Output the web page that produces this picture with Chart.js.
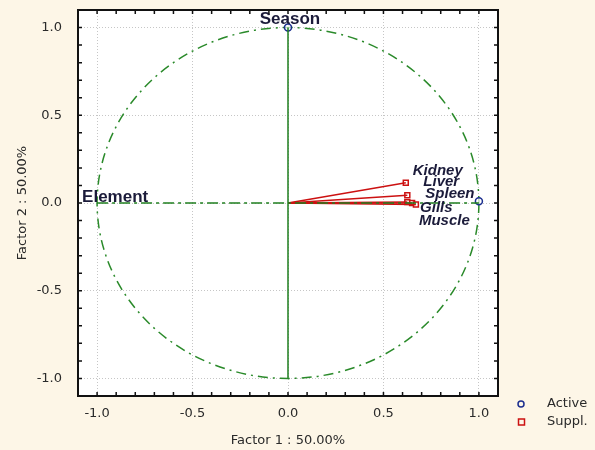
<!DOCTYPE html>
<html lang="en">
<head>
  <meta charset="UTF-8">
  <title>Factor plot</title>
  <script src="https://cdn.jsdelivr.net/npm/chart.js"></script>
  <style>
    html, body { margin: 0; padding: 0; background: #fdf6e7; }
  </style>
</head>
<body>
  <canvas id="factorChart" width="595" height="450"></canvas>
  <script>
    // active variables
    const activeNames = ['Season', 'Element'];
    const activeX = [0.0, 1.0];
    const activeY = [1.0, 0.01];

    // supplementary variables
    const supplNames = ['Kidney', 'Liver', 'Spleen', 'Gills', 'Muscle'];
    const supplX = [0.617, 0.625, 0.625, 0.65, 0.67];
    const supplY = [0.115, 0.044, 0.005, 0.0, -0.008];

    const axisTicks = [-1.0, -0.5, 0.0, 0.5, 1.0];
    const legendLabels = ['Active', 'Suppl.'];

    const GREEN = '#1f7f1f';
    const RED = '#cc1111';
    const BLUE = '#1c2f8f';
    const TEXT = '#2a2a2a';
    const LABEL = '#1b1b3a';

    // label placement (pixels from the point), kept apart from the data
    const supplLabelOffset = {
      Kidney: [7, -8], Liver: [16, -9], Spleen: [18, -4], Gills: [8, 9], Muscle: [3, 21]
    };

    const datasets = [];
    // axis lines through the origin
    datasets.push({
      data: [{x: 0, y: 1}, {x: 0, y: -1}],
      showLine: true, pointRadius: 0, borderColor: GREEN, borderWidth: 1.5
    });
    datasets.push({
      data: [{x: -1, y: 0}, {x: 1, y: 0}],
      showLine: true, pointRadius: 0, borderColor: GREEN, borderWidth: 1.5,
      borderDash: [11, 4, 3, 4]
    });
    // supplementary vectors
    supplNames.forEach((n, i) => {
      datasets.push({
        data: [{x: 0, y: 0}, {x: supplX[i], y: supplY[i]}],
        showLine: true, pointRadius: 0, borderColor: RED, borderWidth: 1.5
      });
    });
    datasets.push({
      label: 'Suppl.',
      data: supplX.map((x, i) => ({x: x, y: supplY[i]})),
      pointStyle: 'rect', pointRadius: 3.5, borderWidth: 1.5,
      borderColor: RED, backgroundColor: 'rgba(255,255,255,0.7)'
    });
    datasets.push({
      label: 'Active',
      data: activeX.map((x, i) => ({x: x, y: activeY[i]})),
      pointStyle: 'circle', pointRadius: 3.5, borderWidth: 1.5,
      borderColor: BLUE, backgroundColor: 'rgba(255,255,255,0.7)'
    });

    const tickFont = {family: 'DejaVu Sans', size: 13};

    const framePlugin = {
      id: 'frame',
      beforeDraw(chart) {
        const {ctx, chartArea: a} = chart;
        ctx.save();
        ctx.fillStyle = '#fdf6e7';
        ctx.fillRect(0, 0, chart.width, chart.height);
        ctx.fillStyle = '#ffffff';
        ctx.fillRect(a.left, a.top, a.right - a.left, a.bottom - a.top);
        ctx.restore();
      },
      beforeDatasetsDraw(chart) {
        // unit circle, drawn through the scales
        const {ctx, scales: {x, y}} = chart;
        const cx = x.getPixelForValue(0), cy = y.getPixelForValue(0);
        const rx = x.getPixelForValue(1) - cx, ry = cy - y.getPixelForValue(1);
        ctx.save();
        ctx.strokeStyle = '#2a8a2a';
        ctx.lineWidth = 1.5;
        ctx.setLineDash([10, 5, 2, 5]);
        ctx.beginPath();
        ctx.ellipse(cx, cy, rx, ry, 0, 0, Math.PI * 2);
        ctx.stroke();
        ctx.restore();
      },
      afterDatasetsDraw(chart) {
        const {ctx, chartArea: a, scales: {x, y}} = chart;
        ctx.save();

        // variable labels
        ctx.fillStyle = LABEL;
        ctx.textBaseline = 'alphabetic';
        ctx.font = 'italic bold 15px "Liberation Sans", Arial, sans-serif';
        ctx.textAlign = 'left';
        supplNames.forEach((n, i) => {
          const o = supplLabelOffset[n];
          ctx.fillText(n, x.getPixelForValue(supplX[i]) + o[0], y.getPixelForValue(supplY[i]) + o[1]);
        });
        ctx.font = 'bold 17px "Liberation Sans", Arial, sans-serif';
        ctx.textAlign = 'center';
        ctx.fillText(activeNames[0], x.getPixelForValue(activeX[0]) + 2, y.getPixelForValue(activeY[0]) - 4);
        ctx.textAlign = 'left';
        ctx.fillText(activeNames[1], x.getPixelForValue(-1) - 15, y.getPixelForValue(0) - 1);

        // frame with inward ticks every 0.1
        ctx.strokeStyle = '#111';
        ctx.lineWidth = 2;
        ctx.strokeRect(a.left, a.top, a.right - a.left, a.bottom - a.top);
        ctx.lineWidth = 1.5;
        ctx.beginPath();
        for (let i = -10; i <= 10; i++) {
          const px = x.getPixelForValue(i / 10);
          const py = y.getPixelForValue(i / 10);
          ctx.moveTo(px, a.bottom); ctx.lineTo(px, a.bottom - 4);
          ctx.moveTo(px, a.top); ctx.lineTo(px, a.top + 4);
          ctx.moveTo(a.left, py); ctx.lineTo(a.left + 4, py);
          ctx.moveTo(a.right, py); ctx.lineTo(a.right - 4, py);
        }
        ctx.stroke();

        // legend
        ctx.font = '13px "DejaVu Sans", sans-serif';
        ctx.textAlign = 'left';
        ctx.textBaseline = 'middle';
        ctx.fillStyle = TEXT;
        ctx.lineWidth = 1.5;
        ctx.strokeStyle = BLUE;
        ctx.beginPath();
        ctx.arc(521, 404, 3, 0, Math.PI * 2);
        ctx.stroke();
        ctx.fillText(legendLabels[0], 547, 404);
        ctx.strokeStyle = RED;
        ctx.strokeRect(518.5, 419, 6, 6);
        ctx.fillText(legendLabels[1], 547, 422);
        ctx.restore();
      }
    };

    const ctx = document.getElementById('factorChart').getContext('2d');
    new Chart(ctx, {
      type: 'scatter',
      data: { datasets: datasets },
      options: {
        responsive: false,
        animation: false,
        layout: { padding: { left: 0, right: 97, top: 10, bottom: 0 } },
        plugins: { legend: { display: false }, tooltip: { enabled: false } },
        scales: {
          x: {
            type: 'linear', min: -1.1, max: 1.1,
            afterBuildTicks: s => { s.ticks = axisTicks.map(v => ({value: v})); },
            afterFit: s => { s.height = 54; s.paddingLeft = 0; s.paddingRight = 0; },
            grid: { color: '#c6c6c6', lineWidth: 1, drawTicks: false },
            border: { display: false, dash: [1, 2] },
            ticks: { padding: 10, color: TEXT, font: tickFont, callback: v => v.toFixed(1) },
            title: { display: true, text: 'Factor 1 : 50.00%', color: TEXT, font: tickFont,
                     padding: { top: 0, bottom: 2 } }
          },
          y: {
            type: 'linear', min: -1.1, max: 1.1,
            afterBuildTicks: s => { s.ticks = axisTicks.map(v => ({value: v})); },
            afterFit: s => { s.width = 78; s.paddingTop = 0; s.paddingBottom = 0; },
            grid: { color: '#c6c6c6', lineWidth: 1, drawTicks: false },
            border: { display: false, dash: [1, 2] },
            ticks: { padding: 16, color: TEXT, font: tickFont, callback: v => v.toFixed(1) },
            title: { display: true, text: 'Factor 2 : 50.00%', color: TEXT, font: tickFont,
                     padding: { top: 15, bottom: 0 } }
          }
        }
      },
      plugins: [framePlugin]
    });
  </script>
</body>
</html>
